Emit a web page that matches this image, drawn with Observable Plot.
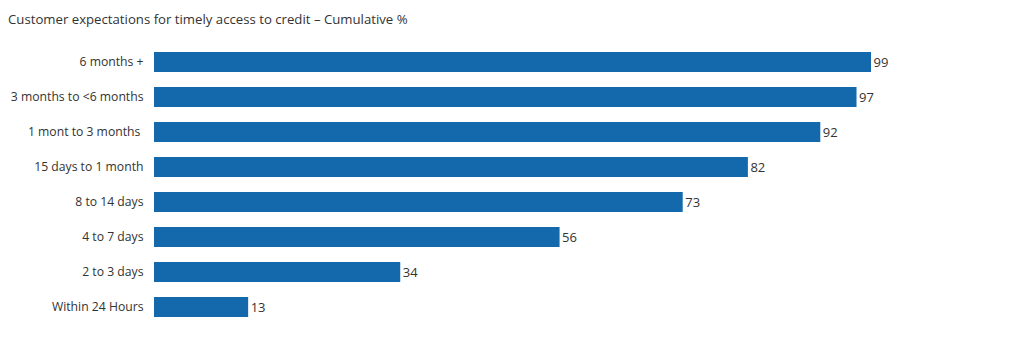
<!DOCTYPE html>
<html>
<head>
<meta charset="utf-8">
<script src="https://cdn.jsdelivr.net/npm/d3@7"></script>
<script src="https://cdn.jsdelivr.net/npm/@observablehq/plot@0.6"></script>
<style>
  html, body { margin: 0; padding: 0; background: #fff; }
  #title { height: 36px; box-sizing: border-box; padding: 10px 0 0 8px; font: 13.2px "Open Sans", "Noto Sans", sans-serif; color: #333; white-space: nowrap; }
  svg { display: block; }
</style>
</head>
<body>
<div id="title">Customer expectations for timely access to credit – Cumulative %</div>
<div id="chart"></div>
<script>
const categories = ["6 months +", "3 months to <6 months", "1 mont to 3 months ", "15 days to 1 month", "8 to 14 days", "4 to 7 days", "2 to 3 days", "Within 24 Hours"];
const values = [99, 97, 92, 82, 73, 56, 34, 13];
const data = categories.map((c, i) => ({category: c, value: values[i]}));

const chart = Plot.plot({
  width: 1024,
  height: 327,
  marginLeft: 154,
  marginRight: 153,
  marginTop: 7,
  marginBottom: 37,
  style: {fontFamily: '"Open Sans", "Noto Sans", sans-serif', color: "#333", background: "#fff"},
  x: {domain: [0, 99], axis: null},
  y: {domain: categories, paddingInner: 0.43, paddingOuter: 0.215, label: null},
  marks: [
    Plot.barX(data, {x: "value", y: "category", fill: "#1469ad"}),
    Plot.axisY({tickSize: 0, tickPadding: 11, fontSize: 12.2, label: null, fill: "#333"}),
    Plot.text(data, {x: "value", y: "category", text: d => String(d.value), textAnchor: "start", dx: 2, fontSize: 13, fill: "#333"})
  ]
});
document.getElementById("chart").appendChild(chart);
</script>
</body>
</html>
